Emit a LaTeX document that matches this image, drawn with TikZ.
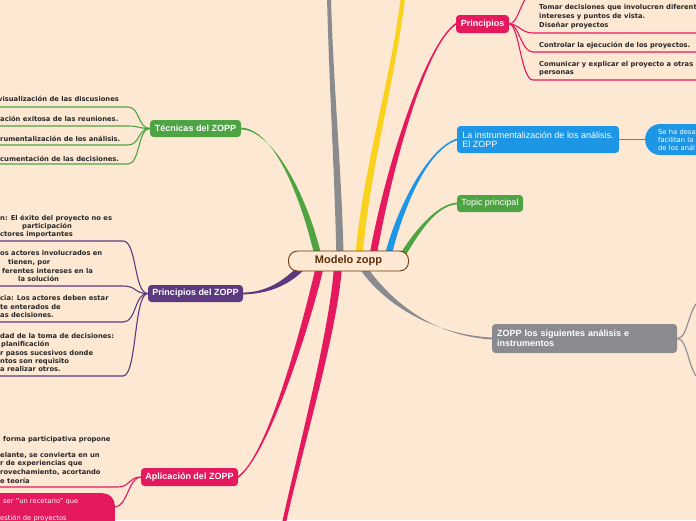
\documentclass[tikz,border=0pt]{standalone}
\usepackage{fontspec}
\setmainfont{DejaVu Sans}
\newfontfamily\boxfont{Liberation Sans}
\usetikzlibrary{calc}
\pgfdeclarelayer{bgl}
\pgfdeclarelayer{back}
\pgfsetlayers{bgl,back,main}
\definecolor{bg}{RGB}{253,232,211}
\definecolor{pk}{RGB}{229,25,94}
\definecolor{bl}{RGB}{30,150,230}
\definecolor{gr}{RGB}{78,163,66}
\definecolor{yl}{RGB}{250,210,30}
\definecolor{gy}{RGB}{138,139,143}
\definecolor{pu}{RGB}{93,58,128}
\definecolor{br}{RGB}{107,58,15}
\definecolor{brt}{RGB}{90,46,11}
\definecolor{txt}{RGB}{40,40,40}
\newcommand\branch[7]{\fill[#1] ($#2-#6$) .. controls ($#3-#6$) and ($#4-#7$) .. ($#5-#7$) -- ($#5+#7$) .. controls ($#4+#7$) and ($#3+#6$) .. ($#2+#6$) -- cycle;}
\begin{document}
\begin{tikzpicture}[x=1pt,y=-1pt,
  box/.style={rounded corners=3.5pt, inner sep=0pt, text=white},
  lbl/.style={font=\boxfont\bfseries\fontsize{9}{10}\selectfont},
  small/.style={font=\fontsize{6.75}{8}\selectfont\bfseries, text=txt, inner sep=0pt, anchor=base west, yshift=-2.4pt},
  wsmall/.style={font=\fontsize{6.75}{8}\selectfont, text=white, inner sep=0pt, anchor=base west, yshift=-2.4pt},
  cline/.style={line width=1.1pt}]
\useasboundingbox (0,0) rectangle (696,520);
\begin{pgfonlayer}{bgl}
\fill[bg] (0,0) rectangle (696,520);
\end{pgfonlayer}

% ---------- nodes ----------
\node[draw=br, line width=0.9pt, fill=bg, rounded corners=9pt, minimum width=120pt, minimum height=20pt, inner sep=0pt, text=brt, font=\boxfont\bfseries\fontsize{11}{12}\selectfont] (m) at (348.5,261) {Modelo zopp};
\node[box, fill=pk, minimum width=53pt, minimum height=18pt, lbl] (prin) at (482.5,24) {Principios};
\node[box, fill=bl, minimum width=162pt, minimum height=27pt, align=left, font=\boxfont\fontsize{9}{9.5}\selectfont] (blu) at (538,139.5) {La instrumentalización de los análisis.\\El ZOPP};
\node[fill=bl, rounded corners=15pt, minimum height=31pt, text width=100pt, inner xsep=13pt, inner ysep=0pt, align=left, anchor=west, text=white, font=\fontsize{6.75}{8}\selectfont] (bp) at (645,139.5) {Se ha desa\\facilitan la\\de los anál};
\node[box, fill=gr, minimum width=66pt, minimum height=17pt, font=\boxfont\fontsize{9}{10}\selectfont] (top) at (490,203.5) {Topic principal};
\node[box, fill=gy, minimum height=29pt, text width=175pt, inner xsep=5pt, align=left, lbl] (zg) at (584.5,338.5) {ZOPP los siguientes análisis e\\instrumentos};
\node[box, fill=gr, minimum width=91pt, minimum height=17pt, lbl] (tec) at (195.5,128.5) {Técnicas del ZOPP};
\node[box, fill=pu, minimum width=95pt, minimum height=17pt, lbl] (ppz) at (195.5,293.5) {Principios del ZOPP};
\node[box, fill=pk, minimum width=97pt, minimum height=18pt, lbl] (apl) at (189.5,477) {Aplicación del ZOPP};
\node[fill=pk, rounded corners=12pt, minimum width=160pt, minimum height=42pt, inner sep=0pt, anchor=north east] (pill) at (115,493) {};

% ---------- coordinates ----------
\coordinate (b1) at (340,256);  \coordinate (e1) at (329,-3);
\coordinate (b2) at (359,256);  \coordinate (e2) at (403,-3);
\coordinate (b3) at (373,256);
\coordinate (b4) at (388,256);
\coordinate (b5) at (402,256);
\coordinate (b6) at (318,256);
\coordinate (b7) at (303,266);
\coordinate (b8) at (362,266);
\coordinate (b9) at (320,266);
\coordinate (b10) at (338,266); \coordinate (e10) at (284,523);

\begin{pgfonlayer}{back}
% main branches
\branch{gy}{(b1)}{(338,170)}{(331,80)}{(e1)}{(3.6,0)}{(2,0)}
\branch{yl}{(b2)}{(366,170)}{(393,80)}{(e2)}{(3.6,0)}{(2.2,0)}
\branch{pk}{(b3)}{(388,170)}{(425,45)}{(prin.west)}{(3.6,0)}{(0,1)}
\branch{bl}{(b4)}{(398,215)}{(425,150)}{(blu.west)}{(3.4,0)}{(0,0.9)}
\branch{gr}{(b5)}{(415,235)}{(435,205)}{(top.west)}{(3.2,0)}{(0,0.9)}
\branch{gr}{(b6)}{(305,200)}{(275,130)}{(tec.east)}{(3.5,0)}{(0,0.9)}
\branch{pu}{(b7)}{(285,285)}{(265,293)}{(ppz.east)}{(2.4,2.4)}{(0,0.9)}
\branch{gy}{(b8)}{(385,300)}{(430,335)}{(zg.west)}{(2.9,-2)}{(0,0.9)}
\branch{pk}{(b9)}{(305,330)}{(268,455)}{(apl.east)}{(4,0)}{(0,0.9)}
\branch{pk}{(b10)}{(334,330)}{(300,450)}{(e10)}{(4,0)}{(2,0)}

% Principios children
\coordinate (r0) at (700,-6); \coordinate (r1) at (700,33); \coordinate (r2) at (700,52); \coordinate (r3) at (700,80);
\draw[pk, cline] (prin.east) .. controls +(10,0) and +(-12,0) .. (533,-6) -- (r0);
\draw[pk, cline] (prin.east) .. controls +(10,0) and +(-12,0) .. (533,33) -- (r1);
\draw[pk, cline] (prin.east) .. controls +(10,0) and +(-12,0) .. (533,52) -- (r2);
\draw[pk, cline] (prin.east) .. controls +(10,0) and +(-12,0) .. (533,80) -- (r3);

% blue child
\draw[bl, line width=1.4pt] (blu.east) -- (bp.west);

% gray children
\coordinate (g1) at (700,300); \coordinate (g2) at (700,380);
\draw[gy, cline] (zg.east) .. controls +(11,0) and +(-12,8) .. (g1);
\draw[gy, cline] (zg.east) .. controls +(11,0) and +(-12,-8) .. (g2);

% Tecnicas children
\coordinate (t1u) at (-3,107); \coordinate (t2u) at (-3,126); \coordinate (t3u) at (-3,145); \coordinate (t4u) at (-3,164);
\draw[gr, cline] (tec.west) .. controls +(-12,0) and +(12,0) .. (128,107) -- (t1u);
\draw[gr, cline] (tec.west) .. controls +(-12,0) and +(12,0) .. (128,126) -- (t2u);
\draw[gr, cline] (tec.west) .. controls +(-12,0) and +(12,0) .. (128,145) -- (t3u);
\draw[gr, cline] (tec.west) .. controls +(-12,0) and +(12,0) .. (128,164) -- (t4u);

% Principios del ZOPP children
\coordinate (p1u) at (-3,241); \coordinate (p2u) at (-3,286); \coordinate (p3u) at (-3,322); \coordinate (p4u) at (-3,376);
\draw[pu, cline] (ppz.west) .. controls +(-14,0) and +(14,0) .. (123,241) -- (p1u);
\draw[pu, cline] (ppz.west) .. controls +(-14,0) and +(14,0) .. (123,286) -- (p2u);
\draw[pu, cline] (ppz.west) .. controls +(-14,0) and +(14,0) .. (123,322) -- (p3u);
\draw[pu, cline] (ppz.west) .. controls +(-14,0) and +(14,0) .. (123,376) -- (p4u);

% Aplicacion children
\coordinate (a1u) at (-3,487); \coordinate (pilla) at ($(pill.north east)+(0,14)$);
\draw[pk, cline] (apl.west) .. controls +(-12,0) and +(12,0) .. (118,487) -- (a1u);
\draw[pk, cline] (apl.west) .. controls +(-12,0) and +(12,0) .. (pilla);
\end{pgfonlayer}

% ---------- texts ----------
\node[small] (r1a) at (539,7) {Tomar decisiones que involucren diferentes};
\node[small] (r1b) at (539,16) {intereses y puntos de vista.};
\node[small] (r1c) at (539,25) {Diseñar proyectos};
\node[small] (r2a) at (539,45) {Controlar la ejecución de los proyectos.};
\node[small] (r3a) at (539,64) {Comunicar y explicar el proyecto a otras};
\node[small] (r3b) at (539,72) {personas};

\node[small] (t1) at (-2,99) {visualización de las discusiones};
\node[small] (t2) at (0,119) {ación exitosa de las reuniones.};
\node[small] (t3) at (0,139) {rumentalización de los análisis.};
\node[small] (t4) at (0,159) {cumentación de las decisiones.};

\node[small] (p1a) at (0,218) {n: El éxito del proyecto no es};
\node[small] (p1b) at (22,226) {participación};
\node[small] (p1c) at (0,234) {ctores importantes};
\node[small] (p2a) at (0,253) {os actores involucrados en};
\node[small] (p2b) at (8,262) {tienen, por};
\node[small] (p2c) at (2,271) {ferentes intereses en la};
\node[small] (p2d) at (18,279) {la solución};
\node[small] (p3a) at (0,298) {cia: Los actores deben estar};
\node[small] (p3b) at (0,307) {te enterados de};
\node[small] (p3c) at (0,315) {as decisiones.};
\node[small] (p4a) at (0,336) {dad de la toma de decisiones:};
\node[small] (p4b) at (1,344) {planificación};
\node[small] (p4c) at (0,353) {r pasos sucesivos donde};
\node[small] (p4d) at (0,361) {ntos son requisito};
\node[small] (p4e) at (0,369) {a realizar otros.};

\node[small] (a1a) at (3,439) {forma participativa propone};
\node[small] (a1b) at (0,455) {elante, se convierta en un};
\node[small] (a1c) at (0,463) {r de experiencias que};
\node[small] (a1d) at (0,472) {rovechamiento, acortando};
\node[small] (a1e) at (0,481) {e teoría};
\node[wsmall] (w1) at (3,501) {ser "un recetario" que};
\node[wsmall] (w2) at (0,518) {estión de proyectos};
\end{tikzpicture}
\end{document}
